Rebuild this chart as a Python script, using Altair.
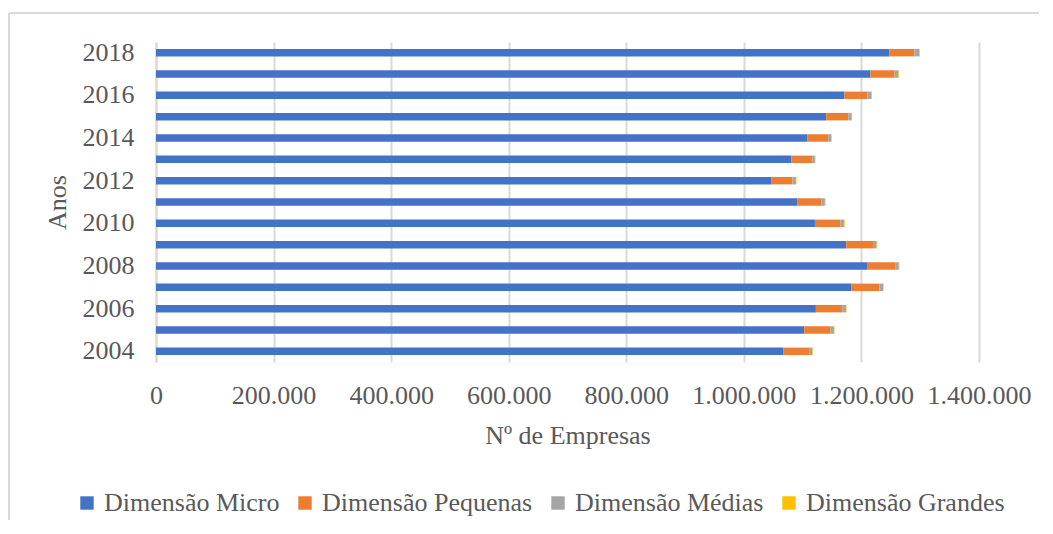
import altair as alt
import pandas as pd

years = [2018, 2017, 2016, 2015, 2014, 2013, 2012, 2011, 2010, 2009, 2008, 2007, 2006, 2005, 2004]
micro = [1247600, 1215200, 1171000, 1140100, 1107700, 1080500, 1046400, 1090700,
         1120900, 1174200, 1210600, 1183300, 1122500, 1102600, 1066800]
pequenas = [42600, 40900, 39200, 37500, 35800, 35800, 36400, 40900,
            43200, 45500, 46700, 47200, 44900, 44300, 44300]
medias = [8000, 6800, 6800, 5600, 5100, 4500, 5700, 6200,
          6300, 6200, 6200, 6200, 6300, 6300, 5700]
grandes = [1100, 1100, 1000, 1000, 1000, 1000, 1000, 1000,
           1000, 1000, 1000, 1000, 1000, 1000, 1000]
series = ["Dimensão Micro", "Dimensão Pequenas", "Dimensão Médias", "Dimensão Grandes"]
colors = ["#4472C4", "#ED7D31", "#A5A5A5", "#FFC000"]

rows = []
for i, y in enumerate(years):
    for k, (name, vals) in enumerate(zip(series, [micro, pequenas, medias, grandes])):
        rows.append({"Ano": y, "Serie": name, "Valor": vals[i], "ordem": k})
df = pd.DataFrame(rows)

FONT = "Liberation Serif"
TXT = "#595959"
GRID = "#D9D9D9"

bars = alt.Chart(df).mark_bar().encode(
    x=alt.X("sum(Valor):Q",
            scale=alt.Scale(domain=[0, 1400000], nice=False),
            axis=alt.Axis(title="Nº de Empresas", values=[0, 200000, 400000, 600000, 800000, 1000000, 1200000, 1400000],
                          labelExpr="replace(format(datum.value, ',d'), /,/g, '.')",
                          labelOverlap=False, labelFlush=False, labelLimit=0,
                          grid=True, gridColor=GRID, gridWidth=2, domain=False, ticks=False,
                          labelPadding=20, titlePadding=14, labelFontSize=26, titleFontSize=26,
                          labelColor=TXT, titleColor=TXT, labelFont=FONT, titleFont=FONT,
                          titleFontWeight="normal")),
    y=alt.Y("Ano:O", sort="descending",
            scale=alt.Scale(paddingInner=0.65, paddingOuter=0.325),
            axis=alt.Axis(title="Anos", labelExpr="datum.value % 2 == 0 ? datum.label : ''",
                          labelOverlap=False,
                          domain=True, domainColor=GRID, domainWidth=2, ticks=False,
                          labelPadding=22, titlePadding=12, labelFontSize=26, titleFontSize=26,
                          labelColor=TXT, titleColor=TXT, labelFont=FONT, titleFont=FONT,
                          titleFontWeight="normal")),
    color=alt.Color("Serie:N", sort=series,
                    scale=alt.Scale(domain=series, range=colors),
                    legend=alt.Legend(title=None, orient="none", direction="horizontal",
                                      legendX=-82, legendY=448,
                                      symbolType="square", symbolSize=180, symbolStrokeWidth=0,
                                      labelFont=FONT, labelFontSize=26, labelColor=TXT,
                                      labelLimit=0, labelOffset=4, columnPadding=12)),
    order=alt.Order("ordem:Q", sort="ascending"),
)

frame_df = pd.DataFrame({"k": [0]})
frame_v = alt.Chart(frame_df).mark_rule(color=GRID, strokeWidth=2, clip=False).encode(
    x=alt.value(-147), y=alt.value(-29), y2=alt.value(520))
frame_h = alt.Chart(frame_df).mark_rule(color=GRID, strokeWidth=2, clip=False).encode(
    x=alt.value(-147), x2=alt.value(900), y=alt.value(-29))

chart = alt.layer(frame_v, frame_h, bars).properties(
    width=823, height=320,
    autosize=alt.AutoSizeParams(type="none"),
    padding={"left": 148, "top": 34, "right": 60, "bottom": 158},
).configure(font=FONT).configure_view(stroke=None).configure_legend(labelFont=FONT)

chart.save("out.html", embed_options={"renderer": "svg", "actions": False})
